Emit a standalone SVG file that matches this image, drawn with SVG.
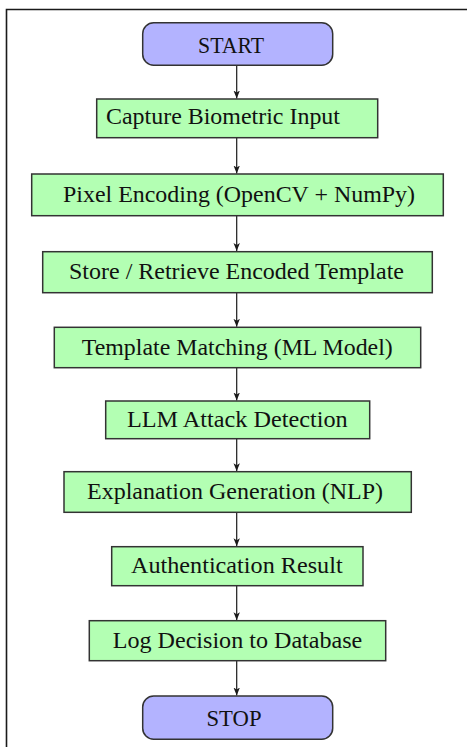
<svg xmlns="http://www.w3.org/2000/svg" width="467" height="747" viewBox="0 0 467 747">
  <style>
    .frame { fill: none; stroke: #1a1a1a; stroke-width: 1.6; }
    .term { fill: #b3b3ff; stroke: #333333; stroke-width: 1.5; }
    .step { fill: #b3ffb3; stroke: #333333; stroke-width: 1.5; }
    .lbl { font-family: "Liberation Serif", "Times New Roman", serif; font-size: 23px; fill: #111111; text-anchor: middle; }
    .big { font-size: 23px; }
    .conn { stroke: #1a1a1a; stroke-width: 1.2; fill: none; marker-end: url(#arrow); }
  </style>
  <defs>
    <marker id="arrow" viewBox="0 0 8 8" refX="8" refY="4" markerWidth="8" markerHeight="8" markerUnits="userSpaceOnUse" orient="auto">
      <path d="M0,0.8 L8,4 L0,7.2 L2,4 Z" fill="#1a1a1a"/>
    </marker>
  </defs>
  <rect width="467" height="747" fill="#ffffff"/>
  <!-- page frame, running off the right and bottom edges -->
  <path class="frame" d="M6.5,747 L6.5,9.5 L467,9.5"/>

  <g id="connectors">
    <line class="conn" x1="236.7" y1="65.5" x2="236.7" y2="98.5"/>
    <line class="conn" x1="236.7" y1="138" x2="236.7" y2="173.5"/>
    <line class="conn" x1="236.7" y1="216" x2="236.7" y2="251"/>
    <line class="conn" x1="236.7" y1="293" x2="236.7" y2="326.8"/>
    <line class="conn" x1="236.7" y1="368" x2="236.7" y2="400.5"/>
    <line class="conn" x1="236.7" y1="439" x2="236.7" y2="471.2"/>
    <line class="conn" x1="236.7" y1="512.6" x2="236.7" y2="546.2"/>
    <line class="conn" x1="236.7" y1="586" x2="236.7" y2="620.2"/>
    <line class="conn" x1="236.7" y1="661" x2="236.7" y2="695.5"/>
  </g>

  <g id="start">
    <rect class="term" x="142.7" y="22.7" width="190" height="42.6" rx="11" ry="11"/>
    <text class="lbl big" x="231" y="52.5" textLength="66" lengthAdjust="spacingAndGlyphs">START</text>
  </g>
  <g id="capture">
    <rect class="step" x="96.7" y="99" width="281" height="38.7"/>
    <text class="lbl" x="223" y="124" textLength="234" lengthAdjust="spacingAndGlyphs">Capture Biometric Input</text>
  </g>
  <g id="encode">
    <rect class="step" x="31.7" y="174" width="411.6" height="41.7"/>
    <text class="lbl" x="239" y="202.3" textLength="352" lengthAdjust="spacingAndGlyphs">Pixel Encoding (OpenCV + NumPy)</text>
  </g>
  <g id="store">
    <rect class="step" x="42.7" y="251.7" width="389.6" height="41"/>
    <text class="lbl" x="236.5" y="279.3" textLength="335" lengthAdjust="spacingAndGlyphs">Store / Retrieve Encoded Template</text>
  </g>
  <g id="match">
    <rect class="step" x="54.3" y="327.3" width="366.4" height="40.4"/>
    <text class="lbl" x="237.3" y="354.6" textLength="311" lengthAdjust="spacingAndGlyphs">Template Matching (ML Model)</text>
  </g>
  <g id="llm">
    <rect class="step" x="105.7" y="401" width="264" height="37.7"/>
    <text class="lbl" x="237.3" y="427" textLength="220.7" lengthAdjust="spacingAndGlyphs">LLM Attack Detection</text>
  </g>
  <g id="explain">
    <rect class="step" x="64" y="471.7" width="347.3" height="40.6"/>
    <text class="lbl" x="235" y="499" textLength="296" lengthAdjust="spacingAndGlyphs">Explanation Generation (NLP)</text>
  </g>
  <g id="result">
    <rect class="step" x="111.7" y="546.7" width="251.3" height="39"/>
    <text class="lbl" x="236.8" y="573.3" textLength="211.7" lengthAdjust="spacingAndGlyphs">Authentication Result</text>
  </g>
  <g id="log">
    <rect class="step" x="89.3" y="620.7" width="296.4" height="40"/>
    <text class="lbl" x="237.5" y="647.8" textLength="249.6" lengthAdjust="spacingAndGlyphs">Log Decision to Database</text>
  </g>
  <g id="stop">
    <rect class="term" x="142.7" y="696" width="190" height="43.3" rx="11" ry="11"/>
    <text class="lbl big" x="234" y="725.5" textLength="55" lengthAdjust="spacingAndGlyphs">STOP</text>
  </g>
</svg>
